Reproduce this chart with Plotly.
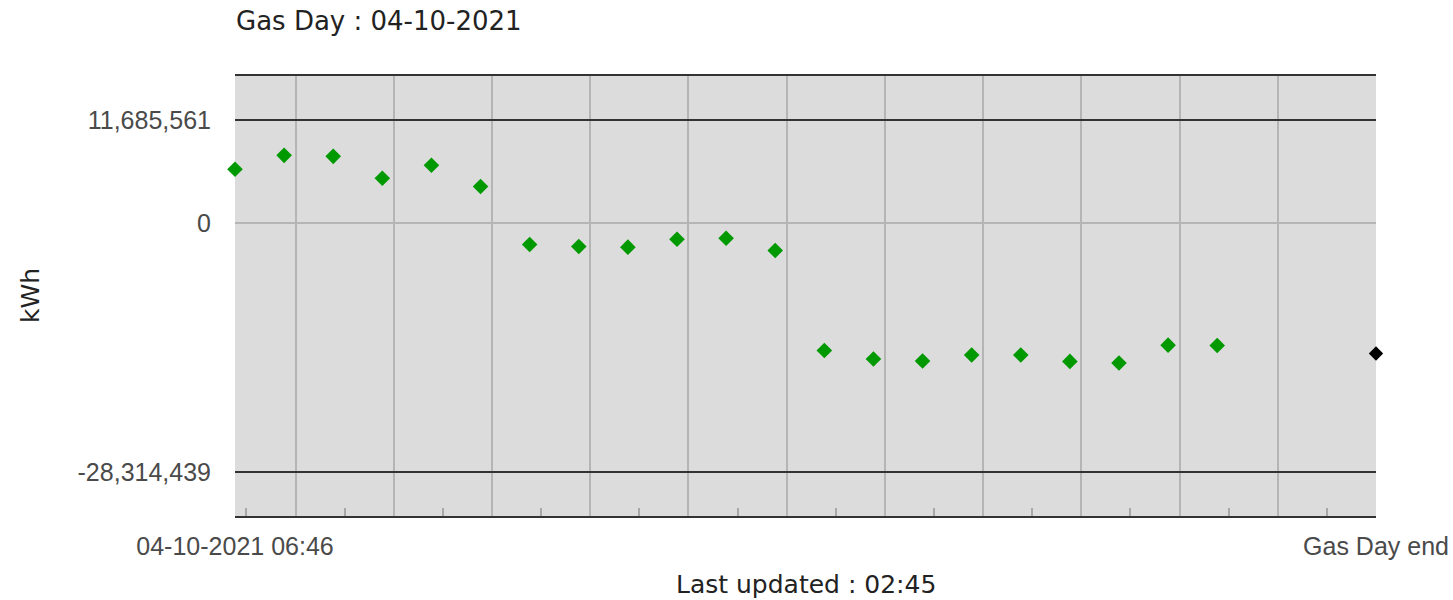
import plotly.graph_objects as go

# hourly balance readings for the gas day (kWh)
times = ["2021-10-04 06:46", "2021-10-04 07:46", "2021-10-04 08:46", "2021-10-04 09:46",
         "2021-10-04 10:46", "2021-10-04 11:46", "2021-10-04 12:46", "2021-10-04 13:46",
         "2021-10-04 14:46", "2021-10-04 15:46", "2021-10-04 16:46", "2021-10-04 17:46",
         "2021-10-04 18:46", "2021-10-04 19:46", "2021-10-04 20:46", "2021-10-04 21:46",
         "2021-10-04 22:46", "2021-10-04 23:46", "2021-10-05 00:46", "2021-10-05 01:46",
         "2021-10-05 02:46"]
values = [6086000, 7667000, 7554000, 5070000, 6538000, 4121000, -2461000, -2686000,
          -2766000, -1862000, -1749000, -3138000, -14507000, -15478000, -15704000,
          -15026000, -15026000, -15749000, -15929000, -13897000, -13943000]

# projected end-of-day position
end_time = ["2021-10-05 06:00"]
end_value = [-14846000]

# axis settings
x_start = "2021-10-04 06:46"
x_end = "2021-10-05 06:00"
x_tickvals = [x_start, x_end]
x_ticktext = ["04-10-2021 06:46", "Gas Day end"]
y_tickvals = [11685561, 0, -28314439]
y_ticktext = ["11,685,561", "0", "-28,314,439"]
y_range = [-33314439, 16685561]

label_font = dict(family="Liberation Sans, Arial", size=25, color="#4a4a4a")
text_font = dict(family="DejaVu Sans, Verdana", size=25, color="#222222")

W, H = 1453, 600

fig = go.Figure()

fig.add_trace(go.Scatter(x=times, y=values, mode="markers", cliponaxis=False,
                         marker=dict(symbol="diamond", size=12, color="#009900"),
                         hoverinfo="x+y"))
fig.add_trace(go.Scatter(x=end_time, y=end_value, mode="markers", cliponaxis=False,
                         xaxis="x2",
                         marker=dict(symbol="diamond", size=11, color="#000000"),
                         hoverinfo="x+y"))

fig.update_layout(
    width=W, height=H,
    margin=dict(l=235, r=77, t=76, b=84),
    paper_bgcolor="white",
    plot_bgcolor="#dcdcdc",
    showlegend=False,
    title=dict(text="Gas Day : 04-10-2021", font=dict(text_font, size=26),
               x=236 / W, xanchor="left", xref="container",
               y=1 - 21 / H, yanchor="middle", yref="container"),
    xaxis=dict(type="date", range=[x_start, x_end], automargin=False,
               tickmode="array", tickvals=x_tickvals, ticktext=x_ticktext,
               tickfont=label_font, ticks="outside", ticklen=7,
               tickcolor="rgba(0,0,0,0)", showgrid=False, zeroline=False,
               showline=True, mirror=True, linecolor="#333333", linewidth=2,
               minor=dict(tickmode="linear", tick0="2021-10-04 08:00", dtick=7200000,
                          showgrid=True, gridcolor="#b5b5b5", gridwidth=1.5, ticks="")),
    xaxis2=dict(type="date", range=[x_start, x_end], overlaying="x", anchor="y",
                automargin=False, side="bottom", tickmode="linear",
                tick0="2021-10-04 07:00", dtick=7200000, ticks="inside", ticklen=8,
                tickwidth=1.5, tickcolor="#a8a8a8", showticklabels=False,
                showgrid=False, showline=False, zeroline=False),
    yaxis=dict(range=y_range, automargin=False, tickmode="array", tickvals=y_tickvals,
               ticktext=y_ticktext, tickfont=label_font, ticks="outside", ticklen=18,
               tickcolor="rgba(0,0,0,0)", showgrid=True, gridcolor="#333333",
               gridwidth=2, zeroline=True, zerolinecolor="#b5b5b5", zerolinewidth=1.5,
               showline=False),
    annotations=[
        dict(text="Last updated : 02:45", xref="paper", yref="paper", x=0.5, y=-68 / 440,
             xanchor="center", yanchor="middle", showarrow=False, font=text_font),
        dict(text="kWh", xref="paper", yref="paper", x=(30 - 235) / 1141, y=0.5,
             xanchor="center", yanchor="middle", textangle=-90, showarrow=False,
             font=text_font),
    ],
)

# drop the page's default body margin so the figure sits at the window's corner
fig.write_html("out.html", config={"displayModeBar": False},
               post_script="document.body.style.margin='0';document.body.style.overflow='hidden';")
